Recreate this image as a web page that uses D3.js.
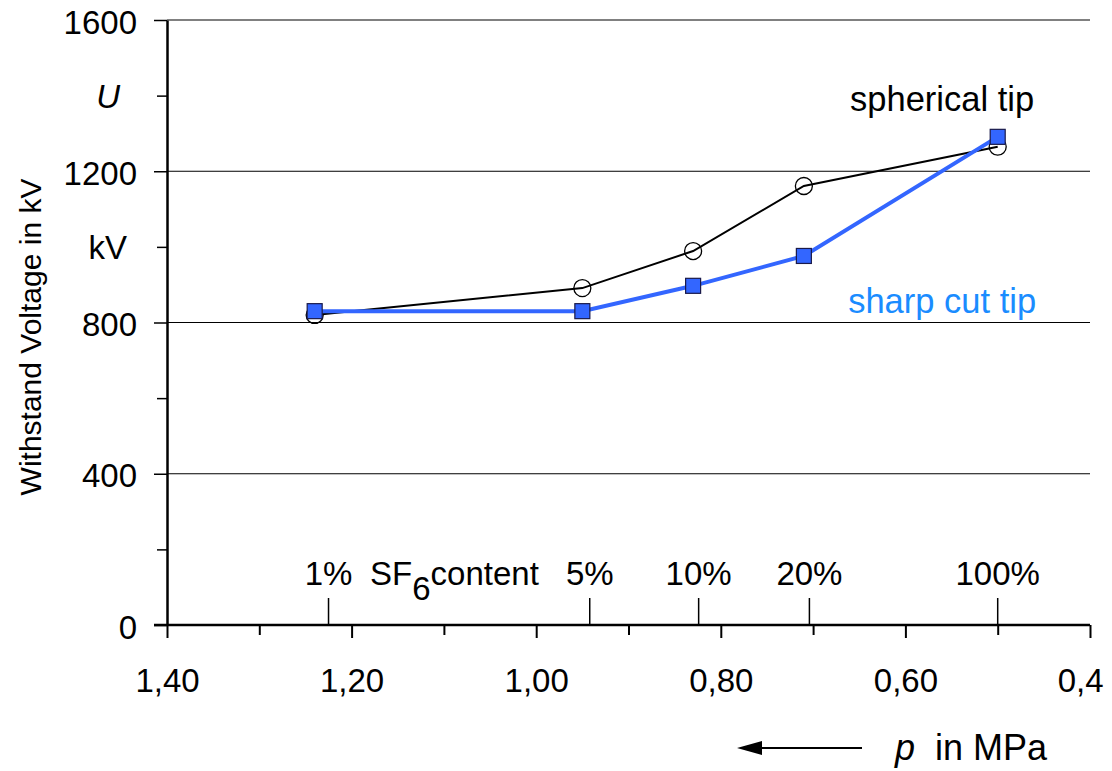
<!DOCTYPE html>
<html>
<head>
<meta charset="utf-8">
<script src="https://cdn.jsdelivr.net/npm/d3@7"></script>
<style>
  body { margin: 0; background: #fff; }
  svg { display: block; font-family: "Liberation Sans", Arial, sans-serif; }
</style>
</head>
<body>
<svg id="chart" width="1112" height="771"></svg>
<script>
// data
const pressure = [1.24, 0.95, 0.83, 0.71, 0.50];
const spherical = [820, 891, 989, 1161, 1265];
const sharpCut = [830, 830, 897, 976, 1291];

const sf6Labels = ["1%", "5%", "10%", "20%", "100%"];
const sf6Pressure = [1.225, 0.942, 0.824, 0.704, 0.50];

const xMajor = [1.4, 1.2, 1.0, 0.8, 0.6, 0.4];
const xMajorLabels = ["1,40", "1,20", "1,00", "0,80", "0,60", "0,4"];
const xMinor = [1.3, 1.1, 0.9, 0.7, 0.5];
const yMajor = [0, 400, 800, 1200, 1600];
const yMinor = [200, 600, 1000, 1400];
const yGrid = [400, 800, 1200];

const width = 1112;
const height = 771;
const plotLeft = 167, plotRight = 1090, plotTop = 20, plotBottom = 625;

const svg = d3.select("#chart");

const x = d3.scaleLinear().domain([1.4, 0.4]).range([plotLeft, plotRight]);
const y = d3.scaleLinear().domain([0, 1600]).range([plotBottom, plotTop]);

// grid lines
svg.append("g")
  .selectAll("line")
  .data(yGrid)
  .join("line")
  .attr("x1", plotLeft).attr("x2", plotRight)
  .attr("y1", (d) => y(d)).attr("y2", (d) => y(d))
  .attr("stroke", "#000").attr("stroke-width", 1);

svg.append("line")
  .attr("x1", plotLeft).attr("x2", plotRight)
  .attr("y1", y(1600)).attr("y2", y(1600))
  .attr("stroke", "#808080").attr("stroke-width", 2);

// y axis
const yAxis = svg.append("g")
  .attr("transform", `translate(${plotLeft},0)`)
  .call(d3.axisLeft(y).tickValues(yMajor).tickSize(13).tickPadding(17)
    .tickFormat(d3.format("d")).tickSizeOuter(0));
yAxis.select(".domain").attr("stroke-width", 2.5);
yAxis.selectAll(".tick line").attr("stroke-width", 1.5);
yAxis.selectAll("text").attr("font-size", 33).attr("dy", "0.4em").attr("fill", "#000")
  .attr("font-family", "Liberation Sans, Arial, sans-serif");

svg.append("g")
  .attr("transform", `translate(${plotLeft},0)`)
  .call(d3.axisLeft(y).tickValues(yMinor).tickSize(10).tickFormat(""))
  .call((g) => g.select(".domain").remove())
  .selectAll(".tick line").attr("stroke-width", 1.5);

// x axis
const xAxis = svg.append("g")
  .attr("transform", `translate(0,${plotBottom})`)
  .call(d3.axisBottom(x).tickValues(xMajor).tickSize(13).tickPadding(31)
    .tickFormat((d, i) => xMajorLabels[i]).tickSizeOuter(0));
xAxis.select(".domain").remove();
xAxis.selectAll(".tick line").attr("stroke-width", 2);
xAxis.selectAll("text").attr("font-size", 33).attr("fill", "#000")
  .attr("font-family", "Liberation Sans, Arial, sans-serif")
  .attr("dx", (d) => (d === 0.4 ? "-0.3em" : 0));

svg.append("g")
  .attr("transform", `translate(0,${plotBottom})`)
  .call(d3.axisBottom(x).tickValues(xMinor).tickSize(10).tickFormat(""))
  .call((g) => g.select(".domain").remove())
  .selectAll(".tick line").attr("stroke-width", 2);

svg.append("line")
  .attr("x1", plotLeft - 13).attr("x2", plotRight)
  .attr("y1", plotBottom).attr("y2", plotBottom)
  .attr("stroke", "#000").attr("stroke-width", 2.5);

// SF6 content ticks
const sf6 = svg.append("g");
sf6.selectAll("line")
  .data(sf6Pressure)
  .join("line")
  .attr("x1", (d) => x(d)).attr("x2", (d) => x(d))
  .attr("y1", plotBottom).attr("y2", plotBottom - 27)
  .attr("stroke", "#000").attr("stroke-width", 1.5);
sf6.selectAll("text")
  .data(sf6Labels)
  .join("text")
  .attr("x", (d, i) => x(sf6Pressure[i]))
  .attr("y", plotBottom - 40)
  .attr("text-anchor", "middle")
  .attr("font-size", 33)
  .text((d) => d);

const sfText = svg.append("text")
  .attr("x", x(1.18))
  .attr("y", plotBottom - 40)
  .attr("font-size", 33);
sfText.append("tspan").text("SF");
sfText.append("tspan").attr("dy", 15).text("6");
sfText.append("tspan").attr("dy", -15).text("content");

// series
const line = d3.line()
  .x((d, i) => x(pressure[i]))
  .y((d) => y(d));

svg.append("path")
  .attr("d", line(spherical))
  .attr("fill", "none")
  .attr("stroke", "#000")
  .attr("stroke-width", 2);

svg.append("g")
  .selectAll("circle")
  .data(spherical)
  .join("circle")
  .attr("cx", (d, i) => x(pressure[i]))
  .attr("cy", (d) => y(d))
  .attr("r", 8.5)
  .attr("fill", "none")
  .attr("stroke", "#000")
  .attr("stroke-width", 1.3);

svg.append("path")
  .attr("d", line(sharpCut))
  .attr("fill", "none")
  .attr("stroke", "#3366ff")
  .attr("stroke-width", 4);

const sq = 15;
svg.append("g")
  .selectAll("rect")
  .data(sharpCut)
  .join("rect")
  .attr("x", (d, i) => x(pressure[i]) - sq / 2)
  .attr("y", (d) => y(d) - sq / 2)
  .attr("width", sq)
  .attr("height", sq)
  .attr("fill", "#3366ff")
  .attr("stroke", "#1a1a4a")
  .attr("stroke-width", 1.2);

// series labels
svg.append("text")
  .attr("x", x(0.66)).attr("y", y(1360))
  .attr("font-size", 34.5)
  .text("spherical tip");

svg.append("text")
  .attr("x", x(0.662)).attr("y", y(825))
  .attr("font-size", 34.5)
  .attr("fill", "#1a8cff")
  .text("sharp cut tip");

// axis titles
svg.append("text")
  .attr("transform", `translate(41,337) rotate(-90)`)
  .attr("text-anchor", "middle")
  .attr("font-size", 30)
  .text("Withstand Voltage in kV");

svg.append("text")
  .attr("x", 120).attr("y", y(1400) + 12)
  .attr("text-anchor", "end")
  .attr("font-size", 33)
  .attr("font-style", "italic")
  .text("U");

svg.append("text")
  .attr("x", 127).attr("y", y(1000) + 12)
  .attr("text-anchor", "end")
  .attr("font-size", 33)
  .text("kV");

// pressure arrow and label
svg.append("line")
  .attr("x1", 862).attr("x2", 762)
  .attr("y1", 748).attr("y2", 748)
  .attr("stroke", "#000").attr("stroke-width", 2);

svg.append("path")
  .attr("d", "M737,748 L762,741 L762,755 Z")
  .attr("fill", "#000");

const pText = svg.append("text")
  .attr("x", 895).attr("y", 760)
  .attr("font-size", 36);
pText.append("tspan").attr("font-style", "italic").text("p");
pText.append("tspan").text("\u00a0 in MPa");
</script>
</body>
</html>
